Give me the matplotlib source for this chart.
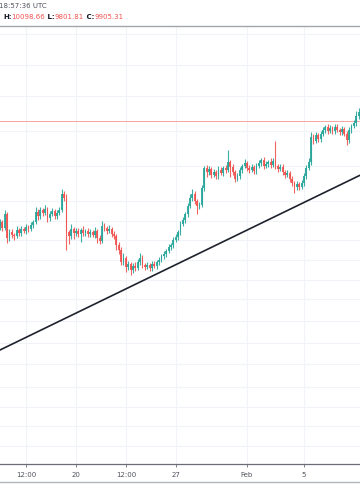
import numpy as np
import pandas as pd
import matplotlib
matplotlib.use('Agg')
import matplotlib.pyplot as plt
import matplotlib.dates as mdates
from matplotlib.lines import Line2D

# BTCUSD 4h candles, starting 2020-01-14 16:00 UTC
first_open = 8600
closes = [8645, 8570, 8745, 8445, 8520, 8483, 8470, 8545, 8508, 8558,
          8533, 8583, 8558, 8608, 8645, 8770, 8720, 8795, 8758, 8808,
          8695, 8745, 8783, 8720, 8758, 8795, 8995, 8945, 8520, 8470,
          8558, 8508, 8533, 8495, 8545, 8508, 8533, 8495, 8520, 8483,
          8533, 8445, 8408, 8595, 8570, 8533, 8558, 8495, 8470, 8358,
          8295, 8145, 8195, 8083, 8120, 8045, 8095, 8070, 8145, 8195,
          8108, 8083, 8108, 8070, 8120, 8095, 8145, 8170, 8220, 8245,
          8283, 8333, 8358, 8420, 8458, 8520, 8620, 8670, 8745, 8845,
          8945, 8995, 8908, 8845, 8858, 9070, 9320, 9270, 9308, 9233,
          9270, 9220, 9295, 9258, 9320, 9295, 9395, 9333, 9270, 9183,
          9220, 9295, 9345, 9383, 9320, 9295, 9333, 9283, 9345, 9383,
          9420, 9345, 9370, 9395, 9358, 9408, 9345, 9308, 9333, 9270,
          9233, 9258, 9183, 9133, 9083, 9120, 9083, 9133, 9220, 9320,
          9395, 9708, 9658, 9733, 9683, 9745, 9795, 9833, 9783, 9820,
          9783, 9833, 9795, 9770, 9808, 9745, 9670, 9795, 9845, 9883,
          9970, 10020]
# wick lengths above / below the candle body (USD)
wick_up = [40, 30, 50, 25, 40, 35, 30, 45, 30, 40,
           30, 35, 25, 40, 30, 60, 35, 40, 30, 45,
           30, 40, 35, 30, 40, 35, 60, 40, 50, 30,
           60, 30, 35, 40, 30, 45, 30, 35, 40, 30,
           50, 30, 35, 60, 40, 30, 45, 30, 35, 30,
           40, 35, 60, 30, 40, 30, 35, 45, 40, 60,
           35, 30, 40, 30, 35, 40, 30, 35, 30, 40,
           30, 35, 30, 40, 35, 30, 40, 35, 30, 40,
           50, 60, 40, 30, 35, 40, 30, 40, 35, 30,
           40, 30, 45, 35, 30, 40, 150, 30, 35, 30,
           40, 35, 30, 45, 30, 35, 40, 30, 35, 40,
           30, 35, 40, 30, 45, 35, 250, 30, 35, 40,
           30, 35, 30, 40, 30, 35, 30, 40, 35, 40,
           50, 60, 40, 35, 30, 40, 35, 30, 40, 35,
           30, 40, 35, 30, 40, 30, 35, 40, 30, 35,
           60, 50]
wick_dn = [60, 40, 30, 60, 40, 35, 50, 30, 40, 35,
           30, 40, 35, 30, 40, 30, 45, 35, 40, 30,
           45, 35, 30, 40, 35, 30, 30, 40, 230, 100,
           40, 80, 35, 40, 100, 35, 40, 35, 40, 30,
           35, 60, 40, 30, 35, 40, 30, 35, 40, 60,
           50, 40, 35, 60, 40, 60, 35, 40, 30, 35,
           40, 35, 30, 40, 35, 30, 40, 35, 30, 40,
           35, 30, 40, 35, 30, 40, 35, 30, 40, 35,
           30, 40, 35, 100, 40, 30, 35, 60, 40, 35,
           30, 40, 35, 30, 40, 35, 30, 130, 40, 35,
           30, 40, 35, 30, 40, 35, 30, 40, 35, 30,
           40, 35, 30, 40, 35, 30, 40, 35, 30, 40,
           35, 30, 40, 35, 80, 35, 40, 30, 35, 40,
           30, 40, 35, 30, 40, 35, 30, 40, 35, 30,
           40, 35, 30, 40, 35, 30, 60, 35, 40, 30,
           35, 40]

last_close = 9905.31
header_time = '18:57:36 UTC'
header_hlc = [('H:', '10098.66'), ('L:', '9801.81'), ('C:', '9905.31')]

trend_times = ['2020-01-14 16:00', '2020-02-08 22:00']
trend_prices = [7045, 9228]

tick_times = ['2020-01-16 12:00', '2020-01-20 00:00', '2020-01-23 12:00',
              '2020-01-27 00:00', '2020-02-01 00:00', '2020-02-05 00:00']
tick_labels = ['12:00', '20', '12:00', '27', 'Feb', '5']
grid_prices = [10995, 10607, 10220, 9782, 9345, 8907, 8658, 8420, 8170,
               7920, 7682, 7407, 7132, 6870, 6582, 6332, 6095, 5845]

UP, DOWN = '#26a69a', '#ef5350'

# build candles
c = np.array(closes, dtype=float)
o = np.concatenate([[first_open], c[:-1]])
hi = np.maximum(o, c) + np.array(wick_up)
lo = np.minimum(o, c) - np.array(wick_dn)
t = mdates.date2num(pd.date_range('2020-01-14 16:00', periods=len(c), freq='4h'))
cols = np.where(c >= o, UP, DOWN)

fig = plt.figure(figsize=(3.6, 5.04), dpi=100)
ax = fig.add_axes([0, 40 / 504, 1, 438 / 504])

ax.vlines(t, lo, hi, colors=cols, lw=0.8, alpha=0.9, zorder=2)
ax.bar(t, np.maximum(np.abs(c - o), 10), bottom=np.minimum(o, c), width=0.13,
       color=cols, lw=0, alpha=0.9, zorder=3)

# last price line
ax.axhline(last_close, color='#f58e8b', lw=0.7, alpha=0.8, zorder=1)
ax.plot(mdates.date2num(pd.to_datetime(trend_times)), trend_prices,
        color='#1e222d', lw=1.2, zorder=4)

ax.set_xlim(mdates.date2num(pd.Timestamp('2020-01-14 16:00')),
            mdates.date2num(pd.Timestamp('2020-02-08 22:20')))
ax.set_ylim(5620, 11095)

ax.set_xticks(mdates.date2num(pd.to_datetime(tick_times)))
ax.set_xticklabels(tick_labels)
ax.set_yticks(grid_prices)
ax.tick_params(axis='y', length=0, labelleft=False)
ax.tick_params(axis='x', length=2, width=0.6, color='#6a6d78', pad=4,
               labelsize=5, labelcolor='#50535e')
ax.grid(True, color='#f0f3f8', lw=0.8, zorder=0)
ax.set_axisbelow(True)

for s in ['left', 'right']:
    ax.spines[s].set_visible(False)
ax.spines['top'].set_color('#a3a6af')
ax.spines['top'].set_linewidth(1)
ax.spines['bottom'].set_color('#6a6d78')
ax.spines['bottom'].set_linewidth(0.9)

# bottom border of the time scale pane
fig.add_artist(Line2D([0, 1], [1 - 482 / 504] * 2, color='#b2b5be', lw=1))

# header legend
fig.text(-0.004, 1 - 6 / 504, header_time, fontsize=5, color='#50535e',
         ha='left', va='center')
prev = None
for lab, val in header_hlc:
    if prev is None:
        prev = fig.text(0.008, 1 - 17 / 504, lab, fontsize=5, color='#131722',
                        fontweight='bold', ha='left', va='center')
    else:
        prev = ax.annotate(' ' + lab, xy=(1, 0), xycoords=prev, fontsize=5,
                           color='#131722', fontweight='bold', va='bottom',
                           annotation_clip=False)
    prev = ax.annotate(val, xy=(1, 0), xycoords=prev, fontsize=5,
                       color=DOWN, va='bottom', annotation_clip=False)

fig.savefig('out.png', dpi=100, facecolor='white')
